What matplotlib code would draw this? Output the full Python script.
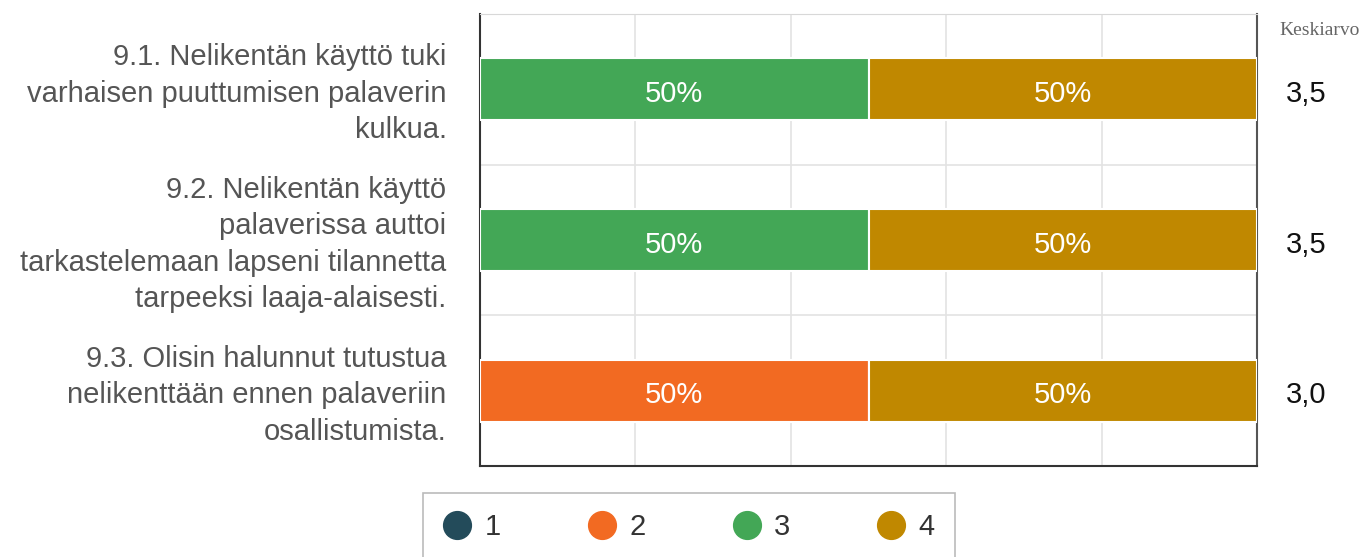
import matplotlib.pyplot as plt
from matplotlib.lines import Line2D

# data
questions = ['9.1. Nelikentän käyttö tuki\nvarhaisen puuttumisen palaverin\nkulkua.',
             '9.2. Nelikentän käyttö\npalaverissa auttoi\ntarkastelemaan lapseni tilannetta\ntarpeeksi laaja-alaisesti.',
             '9.3. Olisin halunnut tutustua\nnelikenttään ennen palaveriin\nosallistumista.']
categories = ['1', '2', '3', '4']
shares = {'1': [0, 0, 0], '2': [0, 0, 50], '3': [50, 50, 0], '4': [50, 50, 50]}
means = ['3,5', '3,5', '3,0']
colors = {'1': '#234B5A', '2': '#F26A22', '3': '#43A756', '4': '#C08800'}

plt.rcParams['font.family'] = ['Liberation Sans', 'DejaVu Sans']
fs = 21
dy = 0.03  # texts sit a little below the bar centre

fig = plt.figure(figsize=(13.66, 5.57), dpi=100)
ax = fig.add_axes([0.3514, 0.1634, 0.5688, 0.8115])

ypos = list(range(len(questions)))
left = [0] * len(questions)
for cat in categories:
    vals = shares[cat]
    ax.barh(ypos, vals, left=left, height=0.41, color=colors[cat],
            edgecolor='white', linewidth=1.5, zorder=3)
    for y, v, l in zip(ypos, vals, left):
        if v > 0:
            ax.text(l + v / 2, y + dy, f'{v}%', ha='center', va='center',
                    color='white', fontsize=fs, zorder=4)
    left = [a + b for a, b in zip(left, vals)]

ax.set_xlim(0, 100)
ax.set_ylim(2.5, -0.5)
ax.set_xticks([20, 40, 60, 80])
ax.set_yticks([0.5, 1.5])
ax.grid(True, color='#e3e3e3', linewidth=1.2, zorder=0)
ax.tick_params(length=0, labelbottom=False, labelleft=False)
for s in ['left', 'bottom']:
    ax.spines[s].set_color('#333333')
    ax.spines[s].set_linewidth(1.5)
ax.spines['right'].set_color('#555555')
ax.spines['right'].set_linewidth(1.5)
ax.spines['top'].set_color('#d8d8d8')

for y, q in zip(ypos, questions):
    ax.text(-0.043, y + dy, q, transform=ax.get_yaxis_transform(), ha='right',
            va='center', fontsize=fs, color='#555555', linespacing=1.38)
for y, m in zip(ypos, means):
    ax.text(1.063, y + dy, m, transform=ax.get_yaxis_transform(), ha='center',
            va='center', fontsize=fs, color='#111111')
fig.text(0.9663, 0.946, 'Keskiarvo', ha='center', va='center', fontsize=14,
         color='#666666', family='Liberation Serif')

handles = [Line2D([], [], marker='o', linestyle='none', markersize=20,
                  color=colors[c]) for c in categories]
leg = fig.legend(handles, categories, loc='upper left',
                 bbox_to_anchor=(0.3097, 0.1149), borderaxespad=0, ncol=4,
                 frameon=True, fancybox=False, fontsize=fs,
                 columnspacing=2.95, handletextpad=0.45, borderpad=0.68,
                 handlelength=1.0)
leg.get_frame().set_edgecolor('#aaaaaa')
leg.get_frame().set_linewidth(1.2)
for t in leg.get_texts():
    t.set_color('#333333')

fig.savefig('out.png', dpi=100)
